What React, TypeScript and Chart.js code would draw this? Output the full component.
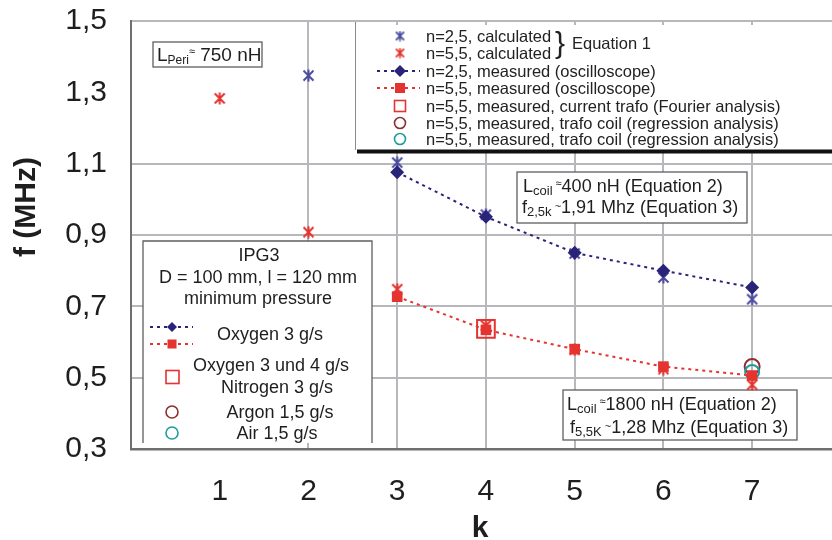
import React, { useEffect, useRef } from 'react';
import { Chart, registerables } from 'chart.js';

Chart.register(...registerables);

// ---- data ----
const K_TICKS = [0, 1, 2, 3, 4, 5, 6, 7];
const F_TICKS = [0.3, 0.5, 0.7, 0.9, 1.1, 1.3, 1.5];

const kCalc25 = [2, 3, 4, 5, 6, 7];
const fCalc25 = [1.347, 1.103, 0.957, 0.848, 0.781, 0.72];

const kCalc55 = [1, 2, 3, 4, 5, 6, 7];
const fCalc55 = [1.283, 0.908, 0.748, 0.646, 0.578, 0.524, 0.48];

const kMeasured = [3, 4, 5, 6, 7];
const fMeas25 = [1.076, 0.951, 0.85, 0.8, 0.753];
const fMeas55 = [0.727, 0.634, 0.58, 0.531, 0.506];

const kFourier = [4];
const fFourier = [0.637];

const kCoilA = [7];
const fCoilA = [0.531];
const kCoilB = [7];
const fCoilB = [0.516];

const legendLabels = [
  'n=2,5, calculated',
  'n=5,5, calculated',
  'n=2,5, measured (oscilloscope)',
  'n=5,5, measured (oscilloscope)',
  'n=5,5, measured, current trafo (Fourier analysis)',
  'n=5,5, measured, trafo coil (regression analysis)',
  'n=5,5, measured, trafo coil (regression analysis)',
];

// ---- styles ----
const FONT = '"Liberation Sans", Arial, Helvetica, sans-serif';
const BLUE_CALC = '#4b4b9d';
const NAVY = '#29247a';
const RED = '#e5332f';
const BROWN = '#8a3030';
const TEAL = '#1f9d9d';
const GRID = '#b7b7bc';
const AXIS = '#6f6f6f';
const TEXT = '#1e1e1e';
const BOXLINE = '#5f5f5f';

const pts = (ks: number[], fs: number[]) => ks.map((k, i) => ({ x: k, y: fs[i] }));

function makeAsterisk(color: string, size: number, lw: number) {
  const c = document.createElement('canvas');
  c.width = size;
  c.height = size;
  const g = c.getContext('2d')!;
  g.strokeStyle = color;
  g.lineWidth = lw;
  const m = lw / 2 + 0.5;
  g.beginPath();
  g.moveTo(m, m);
  g.lineTo(size - m, size - m);
  g.moveTo(size - m, m);
  g.lineTo(m, size - m);
  g.moveTo(size / 2, 0.5);
  g.lineTo(size / 2, size - 0.5);
  g.stroke();
  return c;
}

function rich(ctx: CanvasRenderingContext2D, x: number, y: number, parts: [string, number, number][]) {
  ctx.textAlign = 'left';
  ctx.textBaseline = 'alphabetic';
  let cx = x;
  for (const [t, size, dy] of parts) {
    ctx.font = `${size}px ${FONT}`;
    ctx.fillText(t, cx, y + dy);
    cx += ctx.measureText(t).width;
  }
}

function dottedLine(ctx: CanvasRenderingContext2D, x1: number, x2: number, y: number, color: string) {
  ctx.save();
  ctx.strokeStyle = color;
  ctx.lineWidth = 2;
  ctx.setLineDash([3, 4]);
  ctx.beginPath();
  ctx.moveTo(x1, y);
  ctx.lineTo(x2, y);
  ctx.stroke();
  ctx.restore();
}

function diamond(ctx: CanvasRenderingContext2D, x: number, y: number, r: number, color: string) {
  ctx.fillStyle = color;
  ctx.beginPath();
  ctx.moveTo(x, y - r);
  ctx.lineTo(x + r, y);
  ctx.lineTo(x, y + r);
  ctx.lineTo(x - r, y);
  ctx.closePath();
  ctx.fill();
}

function circle(ctx: CanvasRenderingContext2D, x: number, y: number, r: number, color: string) {
  ctx.strokeStyle = color;
  ctx.lineWidth = 1.6;
  ctx.beginPath();
  ctx.arc(x, y, r, 0, Math.PI * 2);
  ctx.stroke();
}

function openSquare(ctx: CanvasRenderingContext2D, x: number, y: number, s: number, color: string) {
  ctx.strokeStyle = color;
  ctx.lineWidth = 1.6;
  ctx.strokeRect(x - s / 2, y - s / 2, s, s);
}

function whiteBox(ctx: CanvasRenderingContext2D, x: number, y: number, w: number, h: number) {
  ctx.fillStyle = '#ffffff';
  ctx.fillRect(x, y, w, h);
  ctx.strokeStyle = BOXLINE;
  ctx.lineWidth = 1.3;
  ctx.strokeRect(x, y, w, h);
}

const annotations = {
  id: 'annotations',
  beforeDatasetsDraw(chart: any) {
    const ctx: CanvasRenderingContext2D = chart.ctx;
    const ast1 = (chart as any).$astBlue;
    const ast2 = (chart as any).$astRed;
    ctx.save();

    // ---- top-right legend ----
    ctx.fillStyle = '#ffffff';
    ctx.fillRect(355, 25, 480, 125);
    ctx.strokeStyle = '#8a8a8a';
    ctx.lineWidth = 1;
    ctx.beginPath();
    ctx.moveTo(355.5, 22);
    ctx.lineTo(355.5, 150);
    ctx.stroke();
    ctx.fillStyle = '#111111';
    ctx.fillRect(357, 149.5, 480, 4);

    const rows = [36, 53, 71, 88, 106, 123, 139];
    const sx = 400;
    if (ast1) ctx.drawImage(ast1, sx - 5.5, rows[0] - 5.5, 11, 11);
    if (ast2) ctx.drawImage(ast2, sx - 5.5, rows[1] - 5.5, 11, 11);
    dottedLine(ctx, 377, 420, rows[2], NAVY);
    diamond(ctx, sx, rows[2], 6, NAVY);
    dottedLine(ctx, 377, 420, rows[3], RED);
    ctx.fillStyle = RED;
    ctx.fillRect(sx - 5, rows[3] - 5, 10, 10);
    openSquare(ctx, sx, rows[4], 11, RED);
    circle(ctx, sx, rows[5], 5.5, BROWN);
    circle(ctx, sx, rows[6], 5.5, TEAL);

    ctx.fillStyle = '#222222';
    ctx.font = `16.5px ${FONT}`;
    ctx.textAlign = 'left';
    ctx.textBaseline = 'middle';
    legendLabels.forEach((t, i) => ctx.fillText(t, 426, rows[i] + 1));
    ctx.font = `30px ${FONT}`;
    ctx.fillText('}', 555, 45);
    ctx.font = `16.5px ${FONT}`;
    ctx.fillText('Equation 1', 572, 44);

    // ---- L_Peri box ----
    whiteBox(ctx, 153, 42, 109, 25);
    ctx.fillStyle = TEXT;
    rich(ctx, 157, 61, [['L', 19, 0], ['Peri', 12, 3], ['\u2248', 11, -6], [' 750 nH', 19, 0]]);

    // ---- L_coil 400 box ----
    whiteBox(ctx, 517, 172, 230, 51);
    ctx.fillStyle = TEXT;
    rich(ctx, 523, 192, [['L', 18, 0], ['coil', 13, 3], [' \u2248', 11, -5], ['400 nH (Equation 2)', 18, 0]]);
    rich(ctx, 522, 213, [['f', 18, 0], ['2,5k', 13, 3], [' ~', 11, -3], ['1,91 Mhz (Equation 3)', 18, 0]]);

    // ---- L_coil 1800 box ----
    whiteBox(ctx, 563, 390, 234, 50);
    ctx.fillStyle = TEXT;
    rich(ctx, 567, 410, [['L', 18, 0], ['coil', 13, 3], [' \u2248', 11, -5], ['1800 nH (Equation 2)', 18, 0]]);
    rich(ctx, 570, 433, [['f', 18, 0], ['5,5K', 13, 3], [' ~', 11, -3], ['1,28 Mhz (Equation 3)', 18, 0]]);

    // ---- IPG3 box ----
    ctx.fillStyle = '#ffffff';
    ctx.fillRect(143, 241, 229, 202);
    ctx.strokeStyle = BOXLINE;
    ctx.lineWidth = 1.3;
    ctx.beginPath();
    ctx.moveTo(143, 443);
    ctx.lineTo(143, 241);
    ctx.lineTo(372, 241);
    ctx.lineTo(372, 443);
    ctx.stroke();

    ctx.fillStyle = TEXT;
    ctx.font = `18px ${FONT}`;
    ctx.textAlign = 'center';
    ctx.textBaseline = 'middle';
    ctx.fillText('IPG3', 259, 256);
    ctx.fillText('D = 100 mm, l = 120 mm', 258, 278);
    ctx.fillText('minimum pressure', 258, 299);
    ctx.fillText('Oxygen 3 g/s', 270, 335);
    ctx.fillText('Oxygen 3 und 4 g/s', 271, 366);
    ctx.fillText('Nitrogen 3 g/s', 277, 388);
    ctx.fillText('Argon 1,5 g/s', 280, 413);
    ctx.fillText('Air 1,5 g/s', 277, 434);

    dottedLine(ctx, 150, 193, 327, NAVY);
    diamond(ctx, 172, 327, 5, NAVY);
    dottedLine(ctx, 150, 193, 344, RED);
    ctx.fillStyle = RED;
    ctx.fillRect(167.5, 339.5, 9, 9);
    openSquare(ctx, 172.5, 377, 13, RED);
    circle(ctx, 172, 412, 6, BROWN);
    circle(ctx, 172, 433, 6, TEAL);

    ctx.restore();
  },
  afterDraw(chart: any) {
    const ctx: CanvasRenderingContext2D = chart.ctx;
    ctx.save();
    ctx.fillStyle = TEXT;
    ctx.font = `bold 30px ${FONT}`;
    ctx.textAlign = 'center';
    ctx.textBaseline = 'alphabetic';
    ctx.fillText('k', 480, 537);
    ctx.translate(35, 207);
    ctx.rotate(-Math.PI / 2);
    ctx.fillText('f (MHz)', 0, 0);
    ctx.restore();
  },
};

export default function App() {
  const ref = useRef<HTMLCanvasElement>(null);

  useEffect(() => {
    const canvas = ref.current;
    if (!canvas) return;
    const astBlue = makeAsterisk(BLUE_CALC, 13, 2);
    const astRed = makeAsterisk(RED, 13, 2);
    const astBlueL = makeAsterisk(BLUE_CALC, 11, 1.8);
    const astRedL = makeAsterisk(RED, 11, 1.8);

    const near = (a: number, b: number) => Math.abs(a - b) < 1e-6;

    const chart = new Chart(canvas, {
      type: 'scatter',
      data: {
        datasets: [
          {
            label: legendLabels[3],
            data: pts(kMeasured, fMeas55),
            showLine: true,
            borderColor: RED,
            borderWidth: 2,
            borderDash: [3, 4],
            pointStyle: 'rect',
            pointRadius: 7.5,
            pointBackgroundColor: RED,
            pointBorderColor: RED,
            pointBorderWidth: 0,
          },
          {
            label: legendLabels[2],
            data: pts(kMeasured, fMeas25),
            showLine: true,
            borderColor: NAVY,
            borderWidth: 2,
            borderDash: [3, 4],
            pointStyle: 'rectRot',
            pointRadius: 7,
            pointBackgroundColor: NAVY,
            pointBorderColor: NAVY,
            pointBorderWidth: 0,
          },
          {
            label: legendLabels[6],
            data: pts(kCoilB, fCoilB),
            pointStyle: 'circle',
            pointRadius: 7,
            pointBackgroundColor: 'rgba(0,0,0,0)',
            pointBorderColor: TEAL,
            pointBorderWidth: 2,
          },
          {
            label: legendLabels[5],
            data: pts(kCoilA, fCoilA),
            pointStyle: 'circle',
            pointRadius: 7.5,
            pointBackgroundColor: 'rgba(0,0,0,0)',
            pointBorderColor: BROWN,
            pointBorderWidth: 2,
          },
          {
            label: legendLabels[4],
            data: pts(kFourier, fFourier),
            pointStyle: 'rect',
            pointRadius: 12.5,
            pointBackgroundColor: 'rgba(0,0,0,0)',
            pointBorderColor: RED,
            pointBorderWidth: 2,
          },
          {
            label: legendLabels[0],
            data: pts(kCalc25, fCalc25),
            pointStyle: astBlue as any,
            pointRadius: 6,
          },
          {
            label: legendLabels[1],
            data: pts(kCalc55, fCalc55),
            pointStyle: astRed as any,
            pointRadius: 6,
          },
        ],
      },
      options: {
        animation: false,
        responsive: false,
        maintainAspectRatio: false,
        layout: { autoPadding: false, padding: { top: 21, left: 0, right: 0, bottom: 0 } },
        plugins: {
          legend: { display: false },
          tooltip: { enabled: false },
        },
        scales: {
          x: {
            type: 'linear',
            min: 0,
            max: 7.9,
            afterBuildTicks: (s: any) => {
              s.ticks = K_TICKS.map((v) => ({ value: v }));
            },
            afterFit: (s: any) => {
              s.height = 91;
              s.paddingLeft = 0;
              s.paddingRight = 0;
              s.paddingTop = 0;
              s.paddingBottom = 0;
            },
            grid: {
              color: (c: any) =>
                c.tick && (near(c.tick.value, 0) || near(c.tick.value, 1)) ? 'rgba(0,0,0,0)' : GRID,
              lineWidth: 2,
              drawTicks: false,
            },
            border: { color: AXIS, width: 2.5 },
            ticks: {
              padding: 25,
              autoSkip: false,
              maxRotation: 0,
              color: TEXT,
              font: { size: 30, family: FONT },
              callback: (v: any) => (Number(v) >= 1 ? String(v) : ''),
            },
          },
          y: {
            type: 'linear',
            min: 0.3,
            max: 1.5,
            afterBuildTicks: (s: any) => {
              s.ticks = F_TICKS.map((v) => ({ value: v }));
            },
            afterFit: (s: any) => {
              s.width = 131;
              s.paddingLeft = 0;
              s.paddingRight = 0;
              s.paddingTop = 0;
              s.paddingBottom = 0;
            },
            grid: {
              color: (c: any) =>
                c.tick && (near(c.tick.value, 1.3) || near(c.tick.value, 0.3)) ? 'rgba(0,0,0,0)' : GRID,
              lineWidth: 2,
              drawTicks: false,
            },
            border: { color: AXIS, width: 2 },
            ticks: {
              padding: 24,
              color: TEXT,
              font: { size: 30, family: FONT },
              callback: (v: any) => Number(v).toFixed(1).replace('.', ','),
            },
          },
        },
      },
      plugins: [annotations as any],
    });
    (chart as any).$astBlue = astBlueL;
    (chart as any).$astRed = astRedL;
    chart.draw();

    return () => chart.destroy();
  }, []);

  return (
    <div style={{ position: 'fixed', left: 0, top: 0, width: 832, height: 540, background: '#fff' }}>
      <canvas ref={ref} width={832} height={540} style={{ display: 'block', width: 832, height: 540 }} />
    </div>
  );
}
